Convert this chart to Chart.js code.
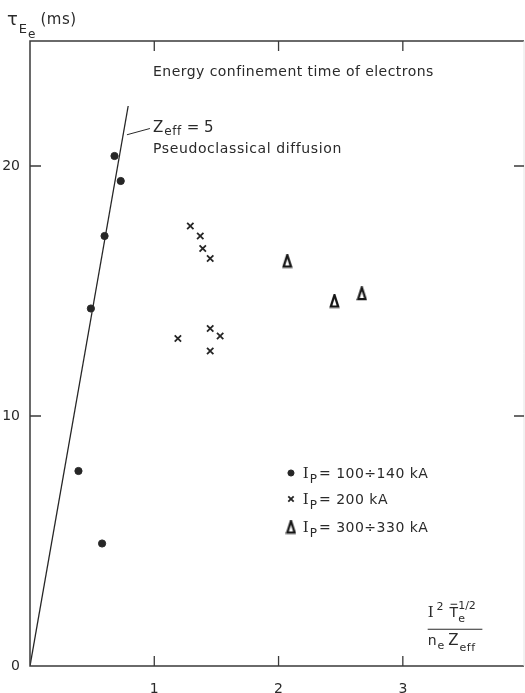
<!DOCTYPE html>
<html>
<head>
<meta charset="utf-8">
<script src="https://cdn.jsdelivr.net/npm/chart.js@4/dist/chart.umd.min.js"></script>
<style>
  html, body { margin: 0; padding: 0; background: #fff; }
</style>
</head>
<body>
<canvas id="tauChart" width="525" height="693"></canvas>
<script>
// I_p = 100 - 140 kA
const lowIpX = [0.68, 0.73, 0.60, 0.49, 0.39, 0.58];
const lowIpY = [20.4, 19.4, 17.2, 14.3, 7.8, 4.9];
// I_p = 200 kA
const midIpX = [1.29, 1.37, 1.39, 1.45, 1.19, 1.45, 1.53, 1.45];
const midIpY = [17.6, 17.2, 16.7, 16.3, 13.1, 13.5, 13.2, 12.6];
// I_p = 300 - 330 kA
const highIpX = [2.07, 2.45, 2.67];
const highIpY = [16.2, 14.6, 14.9];
// pseudoclassical diffusion, Z_eff = 5
const theoryX = [0, 0.79];
const theoryY = [0, 22.4];

const xTickValues = [1, 2, 3];
const yTickValues = [0, 10, 20];
const xMin = 0, xMax = 3.975;
const yMin = 0, yMax = 25;

const INK = '#2a2a2a';
const SANS = '"DejaVu Sans", sans-serif';
const SERIF = '"DejaVu Serif", serif';

function toPoints(xs, ys) {
  return xs.map((x, i) => ({ x: x, y: ys[i] }));
}

// narrow open delta used for the 300 kA shots
function makeDelta() {
  const c = document.createElement('canvas');
  c.width = 11; c.height = 15;
  const g = c.getContext('2d');
  g.strokeStyle = '#161616';
  g.lineWidth = 2.3;
  g.lineJoin = 'miter';
  g.beginPath();
  g.moveTo(5.5, 1.5);
  g.lineTo(9.2, 13.2);
  g.lineTo(1.8, 13.2);
  g.closePath();
  g.stroke();
  return c;
}
const deltaImg = makeDelta();

// draw a row of text pieces (for sub/superscripts), returns start x of each piece
function drawRuns(ctx, x, y, runs) {
  const starts = [];
  runs.forEach(r => {
    ctx.font = (r.size || 14) + 'px ' + (r.family || SANS);
    ctx.letterSpacing = (r.ls || 0) + 'px';
    starts.push(x);
    ctx.fillText(r.t, x, y + (r.dy || 0));
    if (!r.stack) x += ctx.measureText(r.t).width + (r.gap || 0);
  });
  ctx.letterSpacing = '0px';
  starts.push(x);
  return starts;
}

const framePlugin = {
  id: 'frame',
  afterDraw(chart) {
    const ctx = chart.ctx;
    const a = chart.chartArea;
    const xs = chart.scales.x, ys = chart.scales.y;
    ctx.save();
    ctx.strokeStyle = '#3a3a3a';
    ctx.lineWidth = 1.5;
    ctx.beginPath();
    ctx.moveTo(a.right, a.top); ctx.lineTo(a.left, a.top);
    ctx.lineTo(a.left, a.bottom); ctx.lineTo(a.right, a.bottom);
    ctx.stroke();
    ctx.strokeStyle = '#e4e4e4';
    ctx.lineWidth = 1;
    ctx.beginPath();
    ctx.moveTo(a.right, a.top); ctx.lineTo(a.right, a.bottom);
    ctx.stroke();

    // inward ticks on all four sides
    ctx.strokeStyle = '#3a3a3a';
    ctx.lineWidth = 1.3;
    ctx.beginPath();
    xTickValues.forEach(v => {
      const px = xs.getPixelForValue(v);
      ctx.moveTo(px, a.bottom); ctx.lineTo(px, a.bottom - 10);
      ctx.moveTo(px, a.top); ctx.lineTo(px, a.top + 10);
    });
    yTickValues.filter(v => v > 0).forEach(v => {
      const py = ys.getPixelForValue(v);
      ctx.moveTo(a.left, py); ctx.lineTo(a.left + 11, py);
      ctx.moveTo(a.right, py); ctx.lineTo(a.right - 10, py);
    });
    ctx.stroke();

    ctx.fillStyle = INK;
    ctx.textBaseline = 'alphabetic';
    ctx.textAlign = 'left';

    // y axis title
    drawRuns(ctx, 7, 25, [
      { t: 'τ', size: 18, gap: 1 },
      { t: 'E', size: 13, dy: 8, gap: 1 },
      { t: 'e', size: 12, dy: 13, gap: 5 },
      { t: '(ms)', size: 15, dy: -1, ls: 0.5 }
    ]);

    // title inside the plot
    drawRuns(ctx, xs.getPixelForValue(0.99), ys.getPixelForValue(23.6), [
      { t: 'Energy confinement time of electrons', size: 14, ls: 0.45 }
    ]);

    // theory line label with leader
    ctx.strokeStyle = INK;
    ctx.lineWidth = 1;
    ctx.beginPath();
    ctx.moveTo(xs.getPixelForValue(0.78), ys.getPixelForValue(21.25));
    ctx.lineTo(xs.getPixelForValue(0.965), ys.getPixelForValue(21.5));
    ctx.stroke();
    drawRuns(ctx, xs.getPixelForValue(0.99), ys.getPixelForValue(21.38), [
      { t: 'Z', size: 15, gap: 1 },
      { t: 'eff', size: 12, dy: 3, gap: 5, ls: 0.5 },
      { t: '= 5', size: 15 }
    ]);
    drawRuns(ctx, xs.getPixelForValue(0.99), ys.getPixelForValue(20.52), [
      { t: 'Pseudoclassical diffusion', size: 14, ls: 0.6 }
    ]);

    // legend
    const legendRows = [
      { ds: 0, y: 7.72, text: '= 100÷140 kA' },
      { ds: 1, y: 6.68, text: '= 200 kA' },
      { ds: 2, y: 5.56, text: '= 300÷330 kA' }
    ];
    legendRows.forEach(row => {
      const d = chart.data.datasets[row.ds];
      const cy = ys.getPixelForValue(row.y);
      ctx.save();
      ctx.fillStyle = d.backgroundColor;
      ctx.strokeStyle = d.borderColor;
      ctx.lineWidth = d.borderWidth;
      Chart.helpers.drawPoint(ctx, {
        pointStyle: d.pointStyle,
        radius: d.pointRadius * 0.85,
        borderWidth: d.borderWidth
      }, xs.getPixelForValue(2.1), cy);
      ctx.restore();
      drawRuns(ctx, xs.getPixelForValue(2.195), cy + 5, [
        { t: 'I', size: 15, family: SERIF, gap: 1 },
        { t: 'P', size: 12, dy: 5, gap: 2 },
        { t: row.text, size: 14, ls: 0.5 }
      ]);
    });

    // x axis quantity as a fraction
    const fx = xs.getPixelForValue(3.2);
    const fEnd = xs.getPixelForValue(3.64);
    const numY = ys.getPixelForValue(1.95);
    const pos = drawRuns(ctx, fx, numY, [
      { t: 'I', size: 15, family: SERIF, gap: 3 },
      { t: '2', size: 11, dy: -7, gap: 6 },
      { t: 'T', size: 14, gap: 0 },
      { t: 'e', size: 11, dy: 5, stack: true },
      { t: '1/2', size: 11, dy: -8, gap: 0 }
    ]);
    // bar over T
    ctx.lineWidth = 1;
    ctx.beginPath();
    ctx.moveTo(pos[2] + 1, numY - 13);
    ctx.lineTo(pos[3] - 1, numY - 13);
    ctx.stroke();
    ctx.lineWidth = 1.2;
    ctx.beginPath();
    ctx.moveTo(fx, ys.getPixelForValue(1.47));
    ctx.lineTo(fEnd, ys.getPixelForValue(1.47));
    ctx.stroke();
    drawRuns(ctx, fx, ys.getPixelForValue(0.84), [
      { t: 'n', size: 14, gap: 1 },
      { t: 'e', size: 11, dy: 4, gap: 4 },
      { t: 'Z', size: 15, gap: 1 },
      { t: 'eff', size: 11, dy: 6, ls: 0.5 }
    ]);
    ctx.restore();
  }
};

const chart = new Chart(document.getElementById('tauChart').getContext('2d'), {
  type: 'scatter',
  data: {
    datasets: [
      {
        label: 'I_P = 100÷140 kA',
        data: toPoints(lowIpX, lowIpY),
        pointStyle: 'circle',
        pointRadius: 3.6,
        backgroundColor: '#262626',
        borderColor: '#262626',
        borderWidth: 1
      },
      {
        label: 'I_P = 200 kA',
        data: toPoints(midIpX, midIpY),
        pointStyle: 'crossRot',
        pointRadius: 4.5,
        backgroundColor: '#262626',
        borderColor: '#262626',
        borderWidth: 1.8
      },
      {
        label: 'I_P = 300÷330 kA',
        data: toPoints(highIpX, highIpY),
        pointStyle: deltaImg,
        pointRadius: 6,
        backgroundColor: 'rgba(0,0,0,0)',
        borderColor: '#262626',
        borderWidth: 2
      },
      {
        label: 'Z_eff = 5',
        data: toPoints(theoryX, theoryY),
        showLine: true,
        pointRadius: 0,
        borderColor: '#262626',
        borderWidth: 1.3
      }
    ]
  },
  options: {
    responsive: false,
    animation: false,
    layout: { autoPadding: false, padding: { top: 41, right: 1, left: 0, bottom: 0 } },
    plugins: {
      legend: { display: false },
      tooltip: { enabled: false }
    },
    scales: {
      x: {
        type: 'linear',
        min: xMin,
        max: xMax,
        afterBuildTicks: s => { s.ticks = xTickValues.map(v => ({ value: v })); },
        afterFit: s => { s.height = 27; },
        grid: { display: false, drawTicks: false },
        border: { display: false },
        ticks: { padding: 15, color: INK, font: { family: 'DejaVu Sans', size: 14 } }
      },
      y: {
        type: 'linear',
        min: yMin,
        max: yMax,
        afterBuildTicks: s => { s.ticks = yTickValues.map(v => ({ value: v })); },
        afterFit: s => { s.width = 30; },
        grid: { display: false, drawTicks: false },
        border: { display: false },
        ticks: { padding: 10, color: INK, font: { family: 'DejaVu Sans', size: 14 } }
      }
    }
  },
  plugins: [framePlugin]
});
</script>
</body>
</html>
